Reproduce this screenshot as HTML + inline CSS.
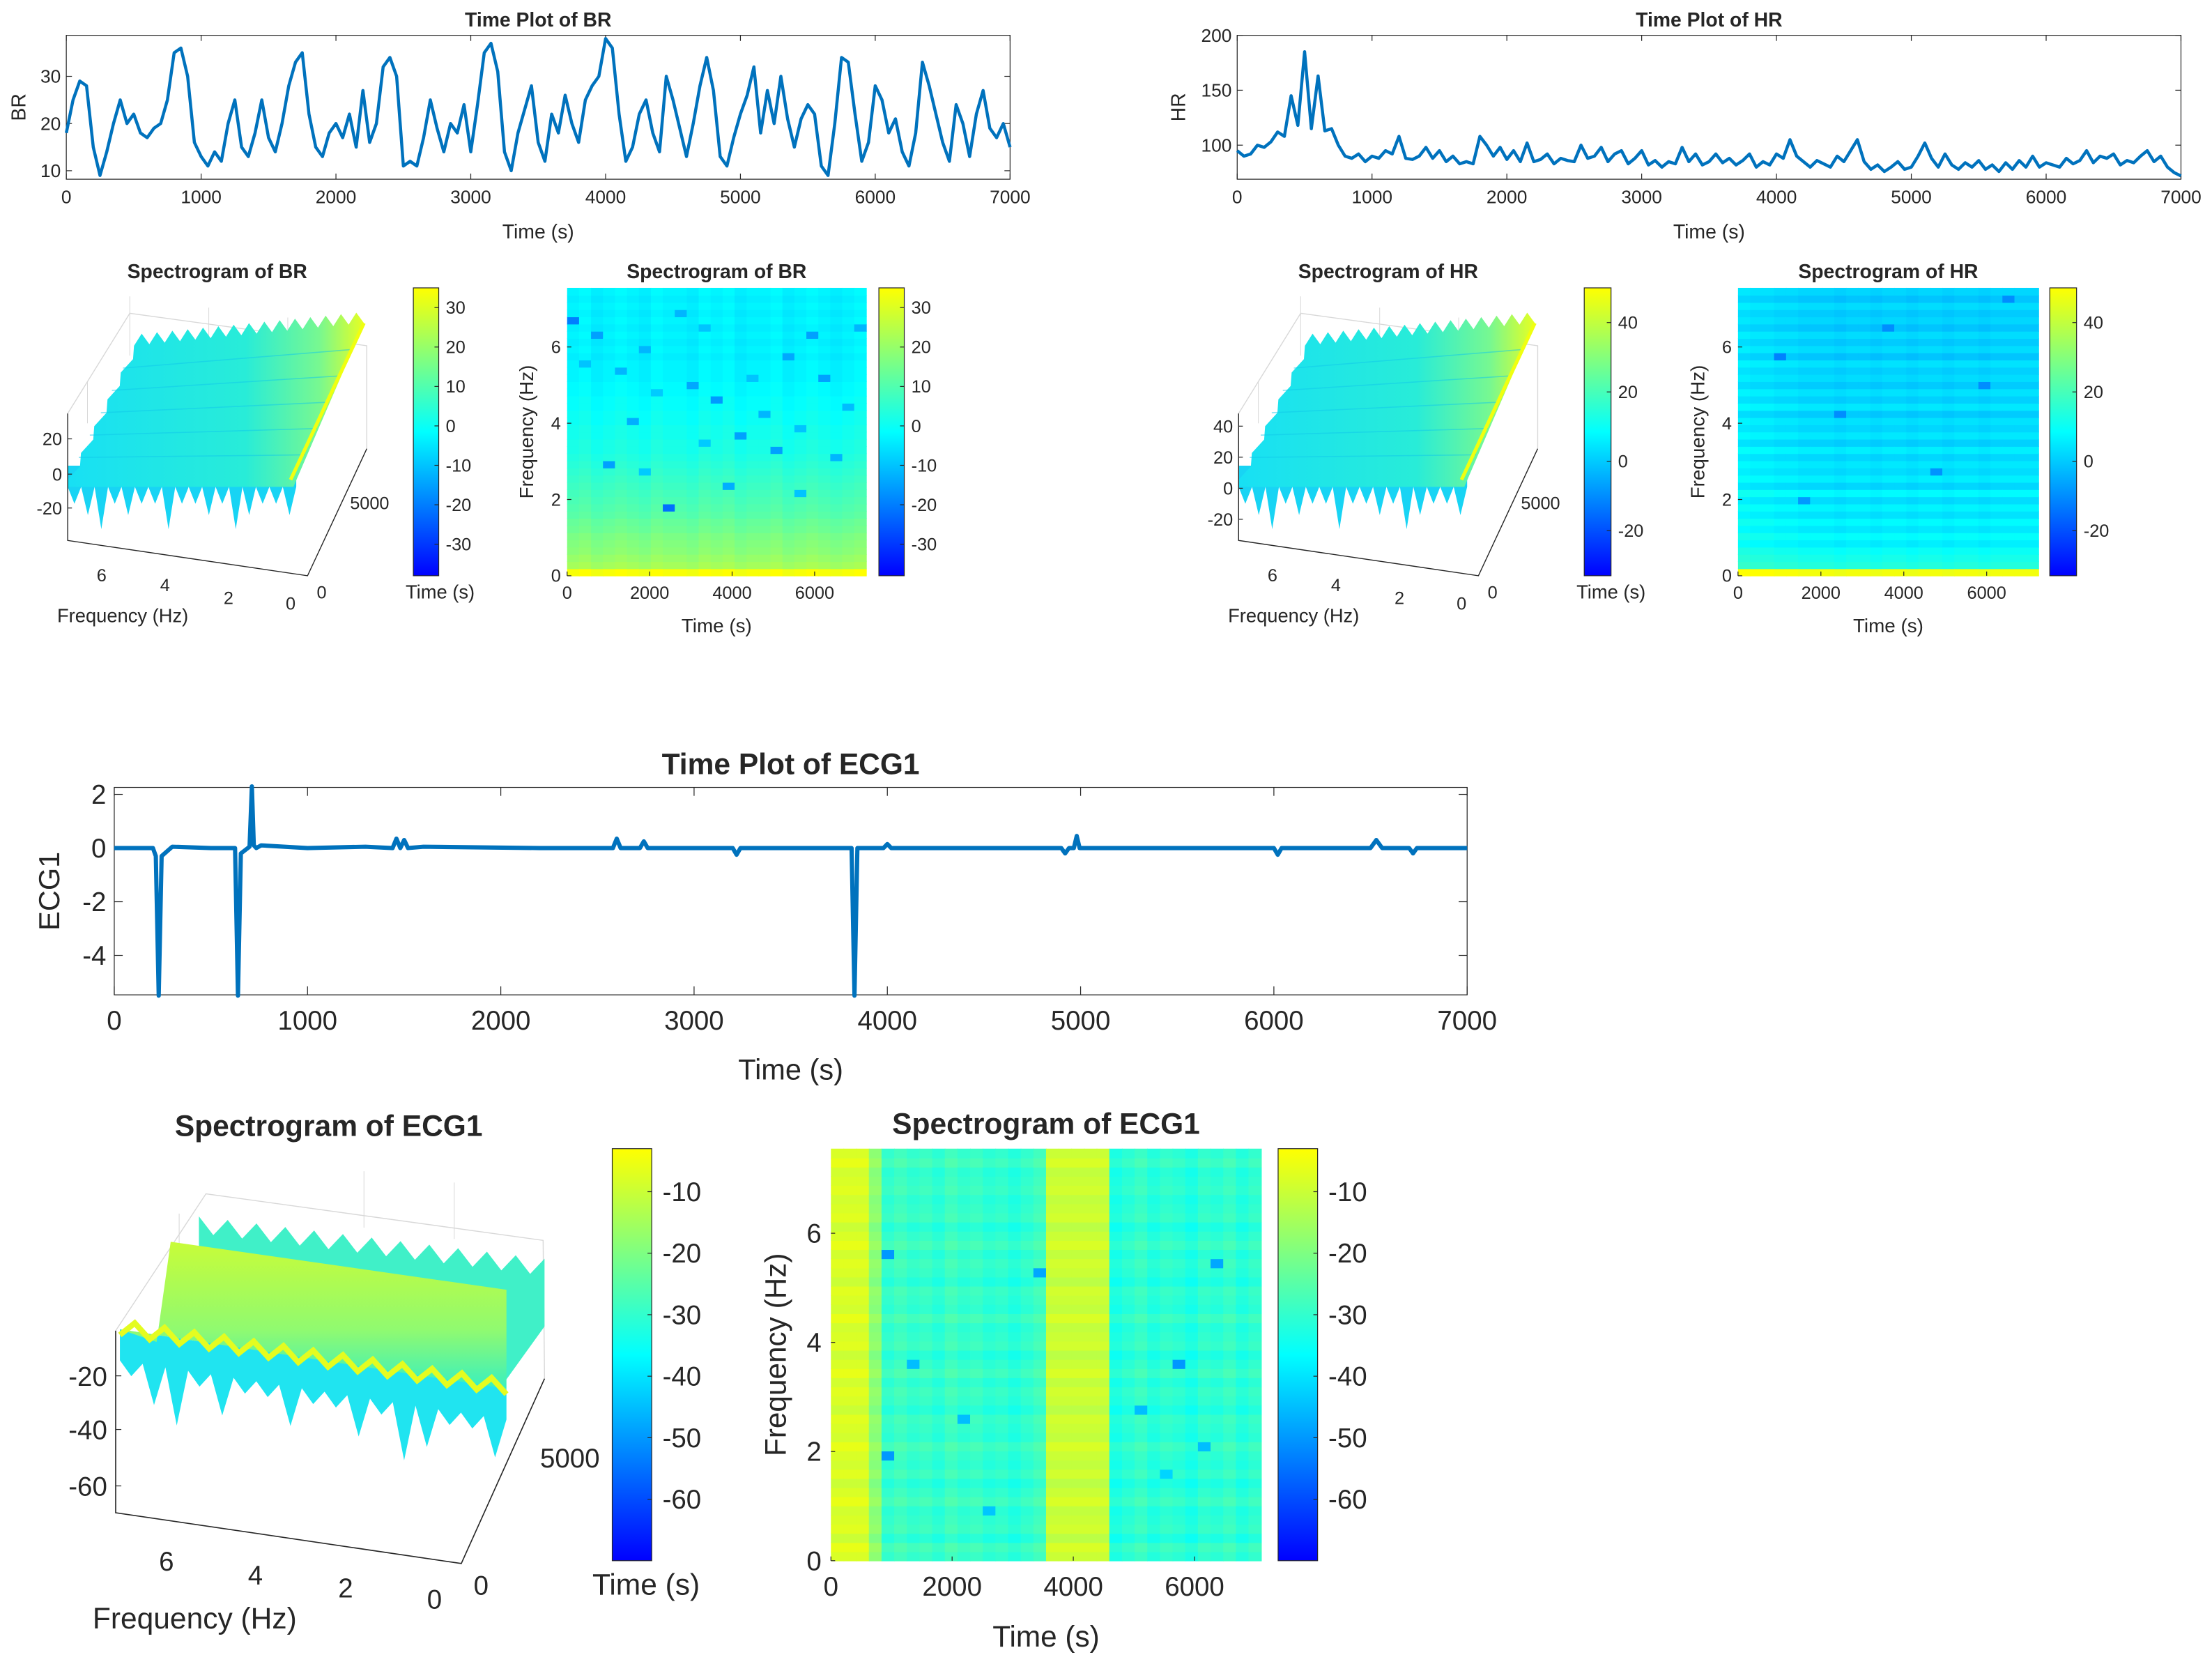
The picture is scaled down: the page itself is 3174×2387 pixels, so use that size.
<!DOCTYPE html>
<html><head><meta charset="utf-8">
<style>
html,body{margin:0;padding:0;background:#fff;}
svg{display:block;font-family:"Liberation Sans",Arial,sans-serif;}
</style></head>
<body>
<svg id="fig" xmlns="http://www.w3.org/2000/svg" width="3174" height="2387" viewBox="0 0 1568 1179.2">
<defs>
<linearGradient id="cbar" x1="0" y1="1" x2="0" y2="0">
<stop offset="0" stop-color="#0000ff"/><stop offset="0.5" stop-color="#00ffff"/><stop offset="0.75" stop-color="#80ff80"/><stop offset="1" stop-color="#ffff00"/>
</linearGradient>
<linearGradient id="surfBR" x1="0" y1="0" x2="1" y2="0">
<stop offset="0" stop-color="#18e0f4"/><stop offset="0.6" stop-color="#28ecd8"/><stop offset="0.85" stop-color="#78f890"/><stop offset="1" stop-color="#e8ff20"/>
</linearGradient>
<linearGradient id="slab" x1="0" y1="0" x2="0" y2="1">
<stop offset="0" stop-color="#c8fc38"/><stop offset="0.6" stop-color="#90fa70"/><stop offset="1" stop-color="#38f0c0"/>
</linearGradient>
</defs>
<g id="root"></g>
</svg>
<script>
// ---------------- DATA ----------------
const brVals=[18,25,29,28,15,9,14,20,25,20,22,18,17,19,20,25,35,36,30,16,13,11,14,12,20,25,15,13,18,25,17,14,20,28,33,35,22,15,13,18,20,17,22,15,27,16,20,32,34,30,11,12,11,17,25,19,14,20,18,24,14,24,35,37,31,14,10,18,23,28,16,12,22,18,26,20,16,25,28,30,38,36,22,12,15,22,25,18,14,30,25,19,13,20,28,34,27,13,11,17,22,26,32,18,27,20,30,21,15,21,24,22,11,9,20,34,33,22,12,16,28,25,18,21,14,11,18,33,28,22,16,12,24,20,13,22,27,19,17,20,15];
const hrVals=[95,90,92,100,98,103,112,108,145,118,185,115,163,113,115,100,90,88,92,85,90,88,95,92,108,88,87,90,98,88,95,85,90,83,85,83,108,100,90,98,87,95,85,102,85,87,92,83,88,86,85,100,88,90,98,85,92,95,83,88,95,82,86,80,85,83,98,85,92,82,85,92,84,88,82,86,92,80,85,82,92,88,105,90,85,80,86,83,80,90,85,95,105,85,78,82,76,80,85,78,80,90,102,88,80,92,82,78,84,80,86,78,82,76,84,78,86,80,90,80,84,82,80,88,83,86,95,84,90,88,92,82,86,84,90,95,85,90,80,75,72];
const ecgT=[0,200,215,230,245,300,500,625,640,655,700,712,722,735,760,1000,1300,1440,1460,1480,1500,1520,1600,2200,2580,2600,2620,2720,2740,2760,3100,3200,3220,3240,3600,3815,3830,3845,3980,4000,4020,4500,4900,4920,4940,4965,4980,4995,5500,5860,6000,6020,6040,6500,6530,6560,6700,6720,6740,7000];
const ecgV=[0,0,-0.3,-5.5,-0.3,0.05,0,0,-5.5,-0.2,0.05,2.3,0.1,0,0.1,0,0.05,0,0.35,0,0.3,0,0.05,0,0,0.35,0,0,0.25,0,0,0,-0.25,0,0,0,-5.5,0,0,0.15,0,0,0,-0.2,0,0,0.45,0,0,0,0,-0.25,0,0,0.3,0,0,-0.2,0,0];
const xTicks=[0,1000,2000,3000,4000,5000,6000,7000];
const brYTicks=[10,20,30];
const hrYTicks=[100,150,200];
const ecgYTicks=[2,0,-2,-4];
const specXTicks=[0,2000,4000,6000];
const specYTicks=[0,2,4,6];
const brRowBase=[34,22,20,18,17,16,14,13,11,10,9,8,7,6,5,4,3,2,2,1,1,0,0,-1,-1,-2,-2,-3,-3,-3,-4,-3,-4,-3,-4,-3,-4,-3,-4,-3];
const brColOff=[0,1,-1,0,1,0,-1,1,0,0,-1,1,0,1,-1,0,0,1,-1,0,1,0,-1,0,1];
const brDark=[[0,35,-20],[2,33,-15],[4,28,-12],[6,31,-12],[3,15,-15],[8,9,-22],[10,26,-14],[12,24,-16],[14,19,-15],[16,22,-12],[18,30,-14],[20,33,-15],[22,16,-12],[13,12,-13],[17,17,-15],[24,34,-12],[9,36,-12],[21,27,-15],[5,21,-13],[1,29,-10],[7,25,-9],[11,34,-10],[15,27,-10],[19,20,-10],[23,23,-11],[6,14,-9],[19,11,-10],[11,18,-9]];
const hrRowBase=[48,14,12,10,6,9,5,8,4,7,3,8,2,6,3,5,2,6,1,5,2,4,0,5,1,4,0,3,1,4,-1,3,0,3,-1,2,0,3,-1,2];
const hrColOff=[3,2,2,1,1,0,0,0,-1,0,0,-1,0,0,-1,0,0,-1,0,0,-1,0,0,0,0];
const hrDark=[[3,30,-12],[8,22,-10],[12,34,-10],[16,14,-9],[20,26,-10],[5,10,-8],[22,38,-10]];
const ecgColBase=[-8,-8,-8,-18,-30,-28,-30,-29,-31,-28,-30,-29,-31,-30,-32,-30,-28,-10,-10,-10,-10,-10,-33,-31,-29,-32,-30,-31,-33,-30,-31,-29,-32,-30];
const ecgRowOff=[0,2,-2,1,0,-1,2,0,-2,1,-1,0,2,-1,0,1,-2,0,1,-1,2,0,-2,1,0,-1,2,-1,0,1,-2,0,1,-1,2,0,-2,1,0,-1,1,0,-1,2,0];
const ecgDark=[[4,33,-50],[4,11,-50],[6,21,-45],[10,15,-45],[16,31,-48],[24,16,-45],[27,21,-50],[30,32,-48],[29,12,-45],[26,9,-42],[12,5,-44]];
// ---------------- HELPERS ----------------
const NS='http://www.w3.org/2000/svg';
const root=document.getElementById('root');
function mk(tag,attrs,parent){const e=document.createElementNS(NS,tag);for(const k in attrs)e.setAttribute(k,attrs[k]);(parent||root).appendChild(e);return e;}
function txt(x,y,s,size,opts){opts=opts||{};const t=mk('text',{x:x,y:y,'font-size':size,'text-anchor':opts.anchor||'middle',fill:'#262626','font-weight':opts.bold?'bold':'normal'});
 if(opts.rot)t.setAttribute('transform','rotate('+opts.rot+' '+x+' '+y+')');t.textContent=s;return t;}
function cmap(t){t=Math.max(0,Math.min(1,t));const st=[[0,0,0,255],[0.5,0,255,255],[0.75,128,255,128],[1,255,255,0]];
 for(let i=1;i<st.length;i++){if(t<=st[i][0]){const a=st[i-1],b=st[i],f=(t-a[0])/(b[0]-a[0]);return 'rgb('+[1,2,3].map(k=>Math.round(a[k]+(b[k]-a[k])*f)).join(',')+')';}}return 'rgb(255,255,0)';}
function lin(d0,d1,r0,r1){return v=>r0+(v-d0)/(d1-d0)*(r1-r0);}

// ---------------- LINE PLOTS ----------------
function linePlot(cfg){
 const g=mk('g',{});
 
 
 const X=lin(0,7000,cfg.x0,cfg.x1),Y=lin(cfg.yv0,cfg.yv1,cfg.y1,cfg.y0);
 const box=mk('rect',{x:cfg.x0,y:cfg.y0,width:cfg.x1-cfg.x0,height:cfg.y1-cfg.y0,fill:'#fff',stroke:'#262626','stroke-width':0.6},g);
 
 
 xTicks.forEach(v=>{mk('line',{x1:X(v),x2:X(v),y1:cfg.y1,y2:cfg.y1-cfg.tk,stroke:'#262626','stroke-width':0.6},g);mk('line',{x1:X(v),x2:X(v),y1:cfg.y0,y2:cfg.y0+cfg.tk,stroke:'#262626','stroke-width':0.6},g);
   const t=txt(X(v),cfg.y1+cfg.fs*1.3,String(v),cfg.fs);g.appendChild(t);});
 cfg.yt.forEach(v=>{mk('line',{x1:cfg.x0,x2:cfg.x0+cfg.tk,y1:Y(v),y2:Y(v),stroke:'#262626','stroke-width':0.6},g);mk('line',{x1:cfg.x1,x2:cfg.x1-cfg.tk,y1:Y(v),y2:Y(v),stroke:'#262626','stroke-width':0.6},g);
   const t=txt(cfg.x0-cfg.fs*0.3,Y(v)+cfg.fs*0.35,String(v),cfg.fs,{anchor:'end'});g.appendChild(t);});
 let pts;
 if(cfg.t){pts=cfg.t.map((t,i)=>X(t)+','+Y(cfg.v[i]));}
 else{const n=cfg.v.length;pts=cfg.v.map((v,i)=>X(i*7000/(n-1))+','+Y(v));}
 const pl=mk('polyline',{points:pts.join(' '),fill:'none',stroke:'#0072bd','stroke-width':cfg.lw,'stroke-linejoin':'round'},g);
 
 
 const ti=txt((cfg.x0+cfg.x1)/2,cfg.y0-cfg.tfs*0.45,cfg.title,cfg.tfs,{bold:true});g.appendChild(ti);
 const xl=txt((cfg.x0+cfg.x1)/2,cfg.y1+cfg.xlo,'Time (s)',cfg.fs*1.08);g.appendChild(xl);
 const ym=(cfg.y0+cfg.y1)/2;const yl=txt(cfg.ylx,ym,cfg.ylabel,cfg.fs*1.08,{rot:-90});g.appendChild(yl);
}
linePlot({name:'br-time-plot',x0:47,x1:716,y0:25,y1:127,yv0:8.2,yv1:38.7,yt:brYTicks,v:brVals,title:'Time Plot of BR',ylabel:'BR',ylx:18,fs:13,tfs:14,tk:4,lw:2.2,xlo:42});
linePlot({name:'hr-time-plot',x0:877,x1:1546,y0:25,y1:127,yv0:69,yv1:200,yt:hrYTicks,v:hrVals,title:'Time Plot of HR',ylabel:'HR',ylx:840,fs:13,tfs:14,tk:4,lw:2.2,xlo:42});
linePlot({name:'ecg1-time-plot',x0:81,x1:1040,y0:558,y1:705,yv0:-5.47,yv1:2.26,yt:ecgYTicks,t:ecgT,v:ecgV,title:'Time Plot of ECG1',ylabel:'ECG1',ylx:42,fs:19,tfs:21,tk:6,lw:3,xlo:60});

// ---------------- COLORBARS ----------------
function colorbar(name,x,y0,y1,w,vmin,vmax,ticks,fs){
 const g=mk('g',{});
 
 
 mk('rect',{x:x,y:y0,width:w,height:y1-y0,fill:'url(#cbar)',stroke:'#262626','stroke-width':0.6},g);
 const Y=lin(vmin,vmax,y1,y0);
 ticks.forEach(v=>{mk('line',{x1:x+w,x2:x+w-3,y1:Y(v),y2:Y(v),stroke:'#262626','stroke-width':0.6},g);
  const t=txt(x+w+fs*0.4,Y(v)+fs*0.35,String(v),fs,{anchor:'start'});g.appendChild(t);});
}
colorbar('br-3d-colorbar',293,204,408,18,-38,35,[30,20,10,0,-10,-20,-30],12.5);
colorbar('br-2d-colorbar',623,204,408,18,-38,35,[30,20,10,0,-10,-20,-30],12.5);
colorbar('hr-3d-colorbar',1123,204,408,19,-33,50,[40,20,0,-20],12.5);
colorbar('hr-2d-colorbar',1453,204,408,19,-33,50,[40,20,0,-20],12.5);
colorbar('ecg-3d-colorbar',434,814,1106,28,-70,-3,[-10,-20,-30,-40,-50,-60],19);
colorbar('ecg-2d-colorbar',906,814,1106,28,-70,-3,[-10,-20,-30,-40,-50,-60],19);

// ---------------- HEATMAPS ----------------
function heatmap(cfg){
 const g=mk('g',{});
 
 
 const nr=cfg.rows.length,nc=cfg.cols.length;
 const X=lin(0,cfg.tmax,cfg.x0,cfg.x1),Y=lin(0,cfg.fmax,cfg.y1,cfg.y0);
 const cw=(cfg.x1-cfg.x0)/nc,rh=(cfg.y1-cfg.y0)/nr;
 const dark={};cfg.dark.forEach(d=>{dark[d[0]+'_'+d[1]]=d[2];});
 for(let c=0;c<nc;c++)for(let r=0;r<nr;r++){
  let v=cfg.rows[r]+cfg.cols[c];const k=c+'_'+r;if(k in dark)v=dark[k];
  const cell=mk('rect',{x:(cfg.x0+c*cw).toFixed(2),y:(cfg.y1-(r+1)*rh).toFixed(2),width:(cw+0.4).toFixed(2),height:(rh+0.4).toFixed(2),fill:cmap((v-cfg.vmin)/(cfg.vmax-cfg.vmin))},g);
  
  
 }
 specXTicks.forEach(v=>{mk('line',{x1:X(v),x2:X(v),y1:cfg.y1,y2:cfg.y1-3,stroke:'#262626','stroke-width':0.6},g);
  const t=txt(X(v),cfg.y1+cfg.fs*1.3,String(v),cfg.fs);g.appendChild(t);});
 specYTicks.forEach(v=>{mk('line',{x1:cfg.x0,x2:cfg.x0+3,y1:Y(v),y2:Y(v),stroke:'#262626','stroke-width':0.6},g);
  const t=txt(cfg.x0-cfg.fs*0.35,Y(v)+cfg.fs*0.35,String(v),cfg.fs,{anchor:'end'});g.appendChild(t);});
 const ti=txt((cfg.x0+cfg.x1)/2,cfg.y0-cfg.fs*0.55,cfg.title,cfg.tfs,{bold:true});g.appendChild(ti);
 const xl=txt((cfg.x0+cfg.x1)/2,cfg.y1+cfg.fs*3.2,'Time (s)',cfg.fs*1.1);g.appendChild(xl);
 const yl=txt(cfg.ylx,(cfg.y0+cfg.y1)/2,'Frequency (Hz)',cfg.fs*1.1,{rot:-90});g.appendChild(yl);
}
heatmap({name:'br-spectrogram-2d',x0:402,x1:614,y0:204,y1:408,tmax:7250,fmax:7.55,rows:brRowBase,cols:brColOff,dark:brDark,vmin:-38,vmax:35,title:'Spectrogram of BR',fs:12.5,tfs:14,ylx:378});
heatmap({name:'hr-spectrogram-2d',x0:1232,x1:1445,y0:204,y1:408,tmax:7250,fmax:7.55,rows:hrRowBase,cols:hrColOff,dark:hrDark,vmin:-33,vmax:50,title:'Spectrogram of HR',fs:12.5,tfs:14,ylx:1208});
heatmap({name:'ecg1-spectrogram-2d',x0:589,x1:894,y0:814,y1:1106,tmax:7100,fmax:7.55,rows:ecgRowOff,cols:ecgColBase,dark:ecgDark,vmin:-70,vmax:-3,title:'Spectrogram of ECG1',fs:19,tfs:21,ylx:557});

// ---------------- 3D SURFACES (approximate) ----------------
function surf3d(cfg){
 const o=cfg.ox,g=mk('g',{});
 
 
 const gl='#d8d8d8';
 mk('polyline',{points:[[48+o,293],[92+o,222],[260+o,245],[260+o,318]].map(p=>p.join(',')).join(' '),fill:'none',stroke:gl,'stroke-width':0.7},g);
 [[92,222],[148,230],[204,237]].forEach(p=>mk('line',{x1:p[0]+o,y1:p[1]-12,x2:p[0]+o,y2:p[1]+30,stroke:gl,'stroke-width':0.5},g));
 mk('line',{x1:62+o,y1:270,x2:62+o,y2:300,stroke:gl,'stroke-width':0.5},g);
 const jag=[[48+o,330]];for(let i=0;i<=34;i++){const f=i/34;jag.push([48+o+f*162,345+((i%2)?12+((i%5==0)?18:((i%3==0)?8:0)):0)]);}
 jag.push([210+o,330]);
 mk('polygon',{points:jag.map(p=>p.join(',')).join(' '),fill:'#18d4f4'},g);
 let top=[];for(let i=0;i<=30;i++){const f=i/30;top.push([95+o+f*(163),245-f*16-((i%2)?8:0)]);}
 let left=[];for(let i=0;i<=10;i++){const f=i/10;left.push([95+o-f*47+((i%2)?4:0),245+f*95]);}
 const pts=left.slice().reverse().concat(top).concat([[258+o,229],[208+o,345],[48+o,345]]);
 const s=mk('polygon',{points:pts.map(p=>p.join(',')).join(' '),fill:'url(#surfBR)'},g);
 
 
 for(let k=1;k<6;k++){const f=k/6;mk('line',{x1:95+o-f*47,y1:245+f*95,x2:258+o-f*50,y2:229+f*112,stroke:'#10c8ea','stroke-width':0.8,opacity:0.5},g);}
 mk('line',{x1:206+o,y1:340,x2:258+o,y2:229,stroke:'#f0ff10','stroke-width':2.5},g);
 mk('polyline',{points:[[48+o,293],[48+o,383],[218+o,408],[260+o,318]].map(p=>p.join(',')).join(' '),fill:'none',stroke:'#262626','stroke-width':0.7},g);
 cfg.zt.forEach((v,i)=>{const y=cfg.zy[i];mk('line',{x1:48+o,x2:51+o,y1:y,y2:y,stroke:'#262626','stroke-width':0.6},g);
   const t=txt(44+o,y+4.5,String(v),12.5,{anchor:'end'});g.appendChild(t);});
 [['6',72,412],['4',117,419],['2',162,428],['0',206,432]].forEach(a=>{const t=txt(a[1]+o,a[2],a[0],12.5);g.appendChild(t);});
 [['0',228,424],['5000',262,361]].forEach(a=>{const t=txt(a[1]+o,a[2],a[0],12.5);g.appendChild(t);});
 const xl=txt(87+o,441,'Frequency (Hz)',13.5);g.appendChild(xl);
 const tl=txt(312+o,424,'Time (s)',13.5);g.appendChild(tl);
 const ti=txt(154+o,197,cfg.title,14,{bold:true});g.appendChild(ti);
}
surf3d({name:'br-spectrogram-3d',ox:0,title:'Spectrogram of BR',zt:[20,0,-20],zy:[311,336,360]});
surf3d({name:'hr-spectrogram-3d',ox:830,title:'Spectrogram of HR',zt:[40,20,0,-20],zy:[302,324,346,368]});

// ECG 3D
(function(){
 const g=mk('g',{});
 
 
 const gl='#d8d8d8';
 mk('polyline',{points:'82,943 146,846 385,879 386,977',fill:'none',stroke:gl,'stroke-width':0.7},g);
 [[127,860],[258,830],[322,838]].forEach(p=>mk('line',{x1:p[0],y1:p[1],x2:p[0],y2:p[1]+40,stroke:gl,'stroke-width':0.5},g));
 let b=[[141,905]];for(let i=0;i<=24;i++){const f=i/24;b.push([141+f*245,862+f*30+((i%2)?12:0)]);}b.push([386,940]);b.push([350,990]);b.push([141,960]);
 mk('polygon',{points:b.map(p=>p.join(',')).join(' '),fill:'#40f0c8'},g);
 // lower cyan spikes following the front ridge slope
 let l=[[85,942]];for(let i=0;i<=34;i++){const f=i/34;l.push([85+f*274,942+f*42+22+((i%2)?10+((i%3==0)?18:((i%5==0)?30:0)):0)]);}l.push([359,984]);
 mk('polygon',{points:l.map(p=>p.join(',')).join(' '),fill:'#20e4f0'},g);
 const sl=mk('polygon',{points:'111,951 121,880 359,914 359,984 85,942',fill:'url(#slab)'},g);
 
 
 let r=[];for(let i=0;i<=26;i++){const f=i/26;r.push([85+f*274,942+f*42+((i%2)?-6:4)]);}
 mk('polyline',{points:r.map(p=>p.join(',')).join(' '),fill:'none',stroke:'#e4fc20','stroke-width':4},g);
 mk('polyline',{points:'82,943 82,1072 327,1108 386,977',fill:'none',stroke:'#262626','stroke-width':0.8},g);
 [[-20,975],[-40,1013],[-60,1053]].forEach(a=>{mk('line',{x1:82,x2:86,y1:a[1],y2:a[1],stroke:'#262626','stroke-width':0.6},g);
   const t=txt(76,a[1]+7,String(a[0]),19,{anchor:'end'});g.appendChild(t);});
 [['6',118,1113],['4',181,1123],['2',245,1132],['0',308,1140]].forEach(a=>{const t=txt(a[1],a[2],a[0],19);g.appendChild(t);});
 [['0',341,1130],['5000',404,1040]].forEach(a=>{const t=txt(a[1],a[2],a[0],19);g.appendChild(t);});
 const xl=txt(138,1154,'Frequency (Hz)',21);g.appendChild(xl);
 const tl=txt(458,1130,'Time (s)',21);g.appendChild(tl);
 const ti=txt(233,805,'Spectrogram of ECG1',21,{bold:true});g.appendChild(ti);
})();
</script>
</body></html>
